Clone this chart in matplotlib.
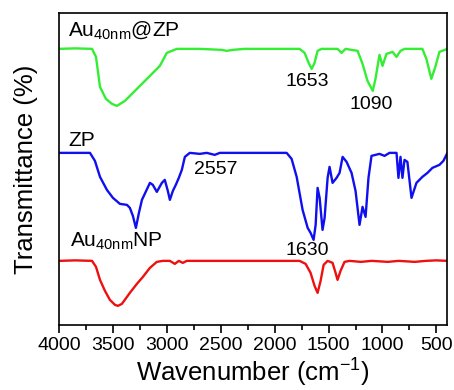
import numpy as np
import matplotlib.pyplot as plt
from matplotlib.ticker import MultipleLocator

plt.rcParams['font.family'] = ['Liberation Sans', 'DejaVu Sans']
plt.rcParams['mathtext.fontset'] = 'custom'
plt.rcParams['mathtext.rm'] = 'Liberation Sans'
plt.rcParams['mathtext.it'] = 'Liberation Sans'

# FTIR spectra (wavenumber in cm-1, relative transmittance)
wn_green = [4000, 3850, 3694, 3657, 3620, 3565, 3509, 3463, 3389, 3250, 3157, 3065,
            3000, 2907, 2694, 2491, 2444, 2389, 2278, 1769, 1722, 1685, 1657, 1630,
            1602, 1565, 1417, 1380, 1343, 1231, 1185, 1139, 1090, 1065, 1028, 1000,
            963, 907, 870, 833, 796, 630, 593, 547, 510, 472, 398]
t_green = [0, 0.5, 0, -8, -38, -50, -55, -57, -52, -37, -27, -17,
           -4, 0, 0, -1, -2, -1, 0, 0, -4, -14, -20, -14,
           -2, 0, 0, -4, 0, -2, -15, -32, -42, -30, -6, -17,
           -5, -3, -8, -2, 0, 0, -10, -30, -18, -3, 0]

wn_blue = [4000, 3713, 3667, 3620, 3556, 3500, 3435, 3370, 3343, 3315, 3287, 3259,
           3231, 3157, 3130, 3093, 3046, 3019, 2991, 2972, 2944, 2917, 2889, 2861,
           2833, 2787, 2694, 2630, 2556, 2509, 1889, 1843, 1796, 1741, 1694, 1667,
           1639, 1620, 1602, 1583, 1556, 1537, 1509, 1491, 1463, 1426, 1398, 1370,
           1333, 1287, 1250, 1213, 1185, 1157, 1130, 1102, 1028, 981, 935, 870,
           852, 833, 815, 796, 769, 731, 685, 630, 583, 537, 472, 435, 398]
t_blue = [0, 0, -8, -24, -37, -45, -51, -52, -55, -63, -75, -60,
          -47, -30, -32, -39, -30, -27, -38, -47, -38, -32, -25, -17,
          -4, 0, -1, 0, -2, 0, 0, -6, -24, -57, -75, -80,
          -87, -72, -35, -45, -77, -65, -25, -14, -30, -25, -20, -4,
          -9, -20, -38, -72, -54, -64, -25, -3, -1, -3, 0, 0,
          -25, -4, -25, -7, -9, -45, -30, -24, -20, -15, -12, -8, 0]

wn_red = [4000, 3850, 3694, 3657, 3620, 3574, 3528, 3481, 3454, 3417, 3343, 3278,
          3222, 3157, 3093, 3037, 2972, 2926, 2889, 2852, 2815, 1769, 1713, 1667,
          1630, 1602, 1574, 1546, 1509, 1463, 1435, 1417, 1389, 1352, 1306, 1200,
          1100, 950, 850, 700, 600, 500, 398]
t_red = [0, 0.5, 0, -6, -19, -30, -39, -44, -45, -43, -32, -23,
         -16, -7, -1, 0, 0, -3, 0, -2, 0, 0, -3, -12,
         -25, -32, -20, -4, 0, -2, -12, -19, -10, -1, 0, -1,
         0, -1, 0, -1, 0, 0.5, 0]

offsets = {'green': 276, 'blue': 172, 'red': 64}

fig = plt.figure(figsize=(4.54, 3.9), dpi=100)
ax = fig.add_axes([0.130, 0.167, 0.855, 0.800])

ax.plot(wn_green, np.array(t_green) + offsets['green'], color='#33ee33', lw=1.7)
ax.plot(wn_blue, np.array(t_blue) + offsets['blue'], color='#1010ee', lw=1.7)
ax.plot(wn_red, np.array(t_red) + offsets['red'], color='#ee1010', lw=1.7)

ax.set_xlim(4000, 400)
ax.set_ylim(0, 312)
ax.set_yticks([])
ax.xaxis.set_major_locator(MultipleLocator(500))
ax.xaxis.set_minor_locator(MultipleLocator(250))
ax.tick_params(axis='x', which='major', direction='out', length=6, width=1.2,
               labelsize=14, top=False, pad=3)
ax.tick_params(axis='x', which='minor', direction='out', length=3.5, width=1.2, top=False)
for s in ax.spines.values():
    s.set_linewidth(1.2)

ax.set_xlabel('Wavenumber (cm$^{-1}$)', fontsize=18.5, labelpad=1.5)
ax.set_ylabel('Transmittance (%)', fontsize=18.5, labelpad=15)

ax.text(3917, 295, 'Au$_{\\mathrm{40nm}}$@ZP', fontsize=15, va='center', ha='left')
ax.text(3917, 184, 'ZP', fontsize=15, va='center', ha='left')
ax.text(3900, 84, 'Au$_{\\mathrm{40nm}}$NP', fontsize=15, va='center', ha='left')
ax.text(1694, 243, '1653', fontsize=14, va='center', ha='center')
ax.text(1102, 220, '1090', fontsize=14, va='center', ha='center')
ax.text(2546, 155, '2557', fontsize=14, va='center', ha='center')
ax.text(1694, 74, '1630', fontsize=14, va='center', ha='center')

fig.savefig('out.png', dpi=100)
